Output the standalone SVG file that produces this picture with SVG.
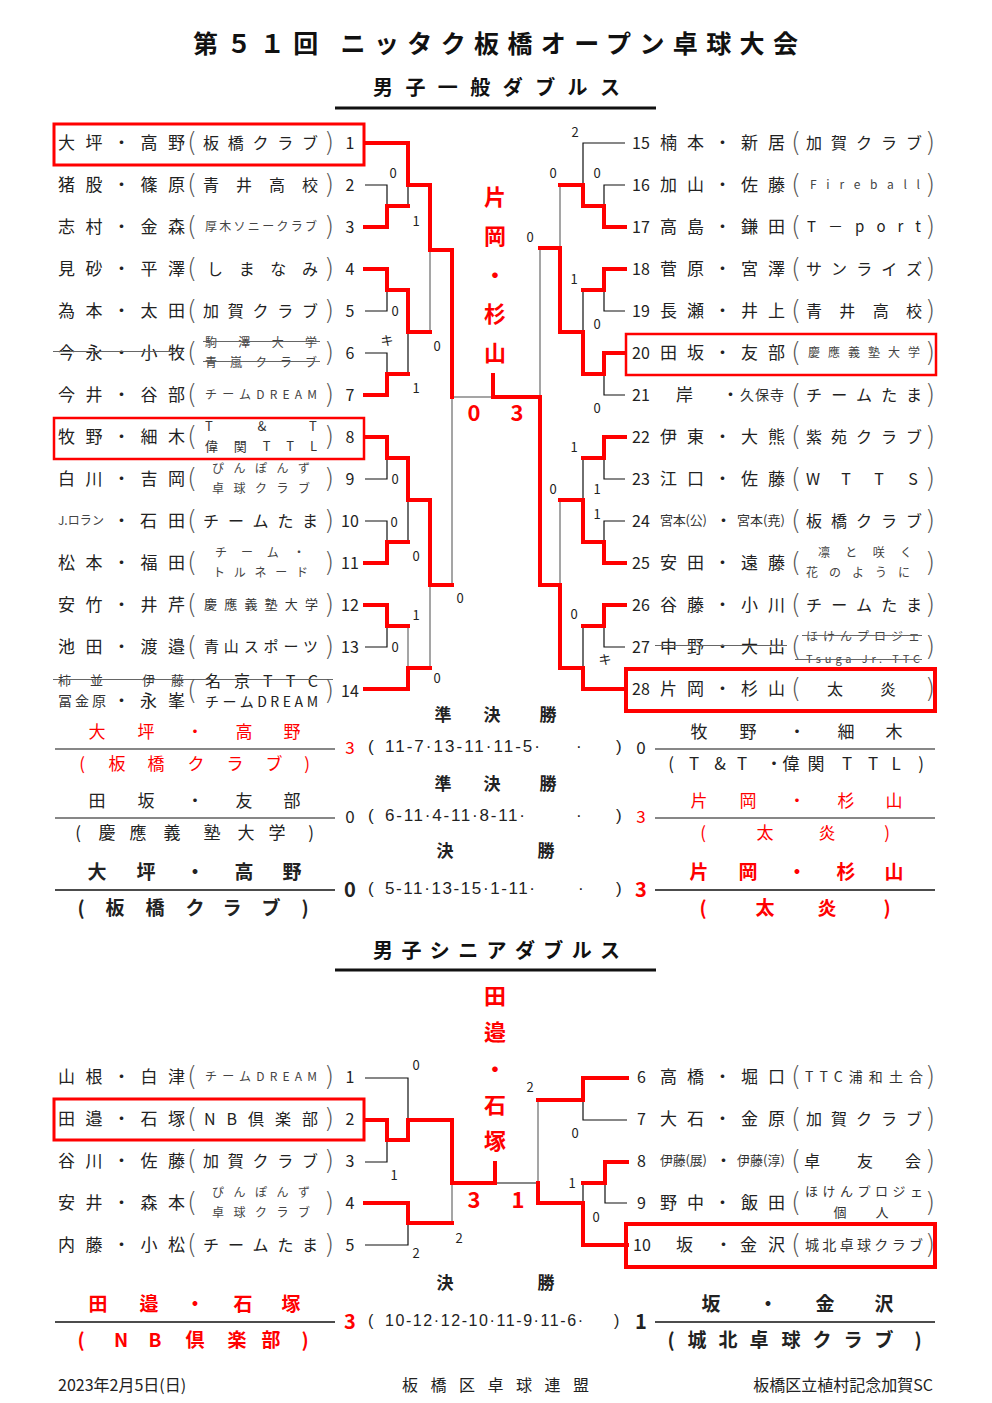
<svg xmlns="http://www.w3.org/2000/svg" width="992" height="1403" viewBox="0 0 992 1403">
<style>
text{font-family:"Noto Sans CJK JP","Noto Sans",sans-serif;fill:#222;dominant-baseline:central}
.nm{font-size:17px}
.cl{font-size:16px}
.sm{font-size:12px;fill:#444}
.s13{font-size:13px;fill:#333}
.pr{font-size:26px;font-family:"DejaVu Sans",sans-serif;font-weight:200;text-anchor:middle;fill:#555}
.no{font-size:16px;text-anchor:middle}
.nr{font-size:16px}
.sc{font-size:13px;text-anchor:middle}
.m{text-anchor:middle}
.red{fill:#f00}
.b{font-weight:bold}
.big{font-size:22px;font-weight:bold;fill:#f00;text-anchor:middle}
.res{font-size:17px;text-anchor:middle}
.num{font-size:17px;font-family:"Liberation Sans",sans-serif}
.k{stroke:#111;stroke-width:1.2;fill:none}
.g{stroke:#888;stroke-width:1.5;fill:none}
.r{stroke:#f00;stroke-width:4;fill:none;stroke-linecap:square}
.st{stroke:#666;stroke-width:1.2}
.bx{fill:none;stroke:#f00}
.hl{stroke:#111;stroke-width:1.2}
</style>
<rect width="992" height="1403" fill="#fff"/>

<g id="titles">
<text x="193" y="42" textLength="605" style="font-size:25px;font-weight:bold;fill:#111">第５１回 ニッタク板橋オープン卓球大会</text>
<text x="373" y="86" textLength="247" style="font-size:20px;font-weight:bold;fill:#111">男子一般ダブルス</text>
<line x1="335" y1="108" x2="656" y2="108" stroke="#111" stroke-width="3"/>
<text x="373" y="949" textLength="247" style="font-size:20px;font-weight:bold;fill:#111">男子シニアダブルス</text>
<line x1="335" y1="970" x2="656" y2="970" stroke="#111" stroke-width="3"/>
</g>

<g id="connectors">
<g class="k">
<path d="M365,185 H387 V206 M408,206 V185 M365,311 H387 V290 M365,353 H387 V374 M408,374 V332 M365,479 H387 V458 M365,521 H387 V542 M408,542 V500 M365,647 H387 V626"/>
<path d="M625,185 H604 V206 M625,143 H583 V185 M625,311 H604 V290 M625,395 H604 V374 M583,290 V332 M625,479 H604 V458 M625,521 H604 V542 M583,458 V500 M625,647 H604 V626 M583,626 V668"/>
<path d="M365,1078 H408 V1120 M365,1162 H387 V1140 M365,1245 H408 V1223 M627,1120 H583 V1100 M627,1203 H605 V1183 M583,1183 V1203 M538,1183 H495"/>
</g>
<g class="g">
<path d="M430,332 V250 M452,585 V397 H493 M408,626 V668 M430,668 V585 M560,185 V248 M540,248 V397 M560,500 V585 M452,1223 V1183 M538,1100 V1183"/>
</g>
<g class="r">
<path d="M365,227 H387 V206 H408 M365,143 H408 V185 H430 M365,269 H387 V290 H408 M365,395 H387 V374 H408 M408,290 V332 H430 M430,185 V250 H452 V397"/>
<path d="M365,437 H387 V458 H408 M365,563 H387 V542 H408 M408,458 V500 H430 M365,605 H387 V626 H408 M365,689 H408 V668 H430 M430,500 V585 H452"/>
<path d="M625,227 H604 V206 H583 M583,206 V185 H560 M625,269 H604 V290 H583 M625,353 H604 V374 H583 M583,374 V332 H560 M560,332 V248 H540 M540,585 V397 H493 V375"/>
<path d="M625,437 H604 V458 H583 M625,563 H604 V542 H583 M583,542 V500 H560 M625,605 H604 V626 H583 M625,689 H583 V668 H560 V585 H540"/>
<path d="M365,1120 H387 V1140 H408 V1120 H452 V1183 H495 V1163 M365,1203 H408 V1223 H452"/>
<path d="M627,1078 H583 V1100 H538 M627,1162 H605 V1183 H583 M627,1245 H583 V1203 H538 V1183"/>
</g>
</g>

<g id="scores-general">
<text class="sc" x="393" y="172">0</text>
<text class="sc" x="416" y="220">1</text>
<text class="sc" x="395" y="310">0</text>
<text class="sc" x="387" y="339">キ</text>
<text class="sc" x="416" y="387">1</text>
<text class="sc" x="437" y="345">0</text>
<text class="sc" x="395" y="478">0</text>
<text class="sc" x="394" y="521">0</text>
<text class="sc" x="416" y="555">0</text>
<text class="sc" x="416" y="614">1</text>
<text class="sc" x="395" y="646">0</text>
<text class="sc" x="437" y="677">0</text>
<text class="sc" x="460" y="597">0</text>
<text class="sc" x="575" y="131">2</text>
<text class="sc" x="553" y="172">0</text>
<text class="sc" x="597" y="172">0</text>
<text class="sc" x="530" y="236">0</text>
<text class="sc" x="574" y="278">1</text>
<text class="sc" x="597" y="323">0</text>
<text class="sc" x="597" y="407">0</text>
<text class="sc" x="574" y="446">1</text>
<text class="sc" x="553" y="488">0</text>
<text class="sc" x="597" y="488">1</text>
<text class="sc" x="597" y="513">1</text>
<text class="sc" x="574" y="613">0</text>
<text class="sc" x="605" y="658">キ</text>
<text class="big" x="474" y="411">0</text>
<text class="big" x="517" y="411">3</text>
<text class="big" x="495" y="195">片</text>
<text class="big" x="495" y="234">岡</text>
<text class="big" x="495" y="273">・</text>
<text class="big" x="495" y="312">杉</text>
<text class="big" x="495" y="351">山</text>
</g>

<g id="boxes">
<rect class="bx" x="54" y="124" width="310" height="41" stroke-width="3"/>
<rect class="bx" x="54" y="418" width="310" height="41" stroke-width="2.5"/>
<rect class="bx" x="626" y="334" width="310" height="41" stroke-width="2.5"/>
<rect class="bx" x="626" y="669" width="309" height="42" stroke-width="4"/>
<rect class="bx" x="54" y="1099" width="310" height="41" stroke-width="3"/>
<rect class="bx" x="626" y="1224" width="309" height="43" stroke-width="4"/>
</g>

<g transform="translate(0,-1.5)">
<g id="L1"><text class="nm" x="58" y="143" textLength="127">大坪・高野</text><text class="pr" x="192" y="143">(</text><text class="cl" x="203" y="143" textLength="115">板橋クラブ</text><text class="pr" x="329" y="143">)</text><text class="no" x="350" y="143">1</text></g>
<g id="L2"><text class="nm" x="58" y="185" textLength="127">猪股・篠原</text><text class="pr" x="192" y="185">(</text><text class="cl" x="203" y="185" textLength="115">青井高校</text><text class="pr" x="329" y="185">)</text><text class="no" x="350" y="185">2</text></g>
<g id="L3"><text class="nm" x="58" y="227" textLength="127">志村・金森</text><text class="pr" x="192" y="227">(</text><text class="sm" x="205" y="227" textLength="112">厚木ソニークラブ</text><text class="pr" x="329" y="227">)</text><text class="no" x="350" y="227">3</text></g>
<g id="L4"><text class="nm" x="58" y="269" textLength="127">見砂・平澤</text><text class="pr" x="192" y="269">(</text><text class="cl" x="207" y="269" textLength="111">しまなみ</text><text class="pr" x="329" y="269">)</text><text class="no" x="350" y="269">4</text></g>
<g id="L5"><text class="nm" x="58" y="311" textLength="127">為本・太田</text><text class="pr" x="192" y="311">(</text><text class="cl" x="203" y="311" textLength="115">加賀クラブ</text><text class="pr" x="329" y="311">)</text><text class="no" x="350" y="311">5</text></g>
<g id="L6"><text class="nm" x="58" y="353" textLength="127">今永・小牧</text><line class="st" x1="53" y1="353" x2="184" y2="353"/><text class="pr" x="192" y="353">(</text><text class="sm" x="205" y="343" textLength="112">駒澤大学</text><line class="st" x1="203" y1="343" x2="320" y2="343"/><text class="sm" x="205" y="363" textLength="112">青嵐クラブ</text><line class="st" x1="203" y1="363" x2="320" y2="363"/><text class="pr" x="329" y="353">)</text><text class="no" x="350" y="353">6</text></g>
<g id="L7"><text class="nm" x="58" y="395" textLength="127">今井・谷部</text><text class="pr" x="192" y="395">(</text><text class="sm" x="205" y="395" textLength="112">チームDREAM</text><text class="pr" x="329" y="395">)</text><text class="no" x="350" y="395">7</text></g>
<g id="L8"><text class="nm" x="58" y="437" textLength="127">牧野・細木</text><text class="pr" x="192" y="437">(</text><text class="s13 m" x="209 262 313" y="427">T&amp;T</text><text class="s13" x="205" y="447" textLength="112">偉関TTL</text><text class="pr" x="329" y="437">)</text><text class="no" x="350" y="437">8</text></g>
<g id="L9"><text class="nm" x="58" y="479" textLength="127">白川・吉岡</text><text class="pr" x="192" y="479">(</text><text class="sm" x="212" y="469" textLength="98">ぴんぽんず</text><text class="sm" x="212" y="489" textLength="98">卓球クラブ</text><text class="pr" x="329" y="479">)</text><text class="no" x="350" y="479">9</text></g>
<g id="L10"><text class="sm" x="58" y="521" textLength="46">J.ロラン</text><text class="nm" x="113" y="521">・</text><text class="nm" x="140" y="521" textLength="45">石田</text><text class="pr" x="192" y="521">(</text><text class="cl" x="203" y="521" textLength="115">チームたま</text><text class="pr" x="329" y="521">)</text><text class="no" x="350" y="521">10</text></g>
<g id="L11"><text class="nm" x="58" y="563" textLength="127">松本・福田</text><text class="pr" x="192" y="563">(</text><text class="sm" x="215" y="553" textLength="90">チーム・</text><text class="sm" x="213" y="573" textLength="95">トルネード</text><text class="pr" x="329" y="563">)</text><text class="no" x="350" y="563">11</text></g>
<g id="L12"><text class="nm" x="58" y="605" textLength="127">安竹・井芹</text><text class="pr" x="192" y="605">(</text><text class="s13" x="204" y="605" textLength="114">慶應義塾大学</text><text class="pr" x="329" y="605">)</text><text class="no" x="350" y="605">12</text></g>
<g id="L13"><text class="nm" x="58" y="647" textLength="127">池田・渡邉</text><text class="pr" x="192" y="647">(</text><text class="cl" x="204" y="647" textLength="114" style="font-size:15px">青山スポーツ</text><text class="pr" x="329" y="647">)</text><text class="no" x="350" y="647">13</text></g>
<g id="L14"><text class="s13" x="58" y="681" textLength="45">柿並</text><text class="s13" x="142" y="681" textLength="42">伊藤</text><text class="cl" x="205" y="681" textLength="113">名京TTC</text><line class="st" x1="53" y1="681" x2="333" y2="681"/><text class="s13" x="58" y="701" textLength="48" style="font-size:14px">冨金原</text><text class="nm" x="113" y="701">・</text><text class="nm" x="140" y="701" textLength="45">永峯</text><text class="cl" x="205" y="702" textLength="113" style="font-size:14px">チームDREAM</text><text class="pr" x="192" y="691">(</text><text class="pr" x="329" y="691">)</text><text class="no" x="350" y="691">14</text></g>

<g id="R15"><text class="nr" x="632" y="143">15</text><text class="nm" x="660" y="143" textLength="125">楠本・新居</text><text class="pr" x="796" y="143">(</text><text class="cl" x="806" y="143" textLength="116">加賀クラブ</text><text class="pr" x="930" y="143">)</text></g>
<g id="R16"><text class="nr" x="632" y="185">16</text><text class="nm" x="660" y="185" textLength="125">加山・佐藤</text><text class="pr" x="796" y="185">(</text><text class="sm" x="810" y="185" textLength="110">Fireball</text><text class="pr" x="930" y="185">)</text></g>
<g id="R17"><text class="nr" x="632" y="227">17</text><text class="nm" x="660" y="227" textLength="125">高島・鎌田</text><text class="pr" x="796" y="227">(</text><text class="cl" x="807" y="227" textLength="114" style="font-size:15px">T－port</text><text class="pr" x="930" y="227">)</text></g>
<g id="R18"><text class="nr" x="632" y="269">18</text><text class="nm" x="660" y="269" textLength="125">菅原・宮澤</text><text class="pr" x="796" y="269">(</text><text class="cl" x="806" y="269" textLength="116">サンライズ</text><text class="pr" x="930" y="269">)</text></g>
<g id="R19"><text class="nr" x="632" y="311">19</text><text class="nm" x="660" y="311" textLength="125">長瀬・井上</text><text class="pr" x="796" y="311">(</text><text class="cl" x="806" y="311" textLength="116">青井高校</text><text class="pr" x="930" y="311">)</text></g>
<g id="R20"><text class="nr" x="632" y="353">20</text><text class="nm" x="660" y="353" textLength="125">田坂・友部</text><text class="pr" x="796" y="353">(</text><text class="sm" x="808" y="353" textLength="112">慶應義塾大学</text><text class="pr" x="930" y="353">)</text></g>
<g id="R21"><text class="nr" x="632" y="395">21</text><text class="nm" x="676" y="395">岸</text><text class="nm" x="722" y="395">・</text><text class="s13" x="740" y="395" textLength="44" style="font-size:14px">久保寺</text><text class="pr" x="796" y="395">(</text><text class="cl" x="806" y="395" textLength="116">チームたま</text><text class="pr" x="930" y="395">)</text></g>
<g id="R22"><text class="nr" x="632" y="437">22</text><text class="nm" x="660" y="437" textLength="125">伊東・大熊</text><text class="pr" x="796" y="437">(</text><text class="cl" x="806" y="437" textLength="116">紫苑クラブ</text><text class="pr" x="930" y="437">)</text></g>
<g id="R23"><text class="nr" x="632" y="479">23</text><text class="nm" x="660" y="479" textLength="125">江口・佐藤</text><text class="pr" x="796" y="479">(</text><text class="cl m" x="813 846 879 913" y="479">WTTS</text><text class="pr" x="930" y="479">)</text></g>
<g id="R24"><text class="nr" x="632" y="521">24</text><text class="s13" x="660" y="521" textLength="47">宮本(公)</text><text class="nm" x="715" y="521">・</text><text class="s13" x="737" y="521" textLength="48">宮本(尭)</text><text class="pr" x="796" y="521">(</text><text class="cl" x="806" y="521" textLength="116">板橋クラブ</text><text class="pr" x="930" y="521">)</text></g>
<g id="R25"><text class="nr" x="632" y="563">25</text><text class="nm" x="660" y="563" textLength="125">安田・遠藤</text><text class="pr" x="796" y="563">(</text><text class="sm" x="818" y="553" textLength="94">凛と咲く</text><text class="sm" x="806" y="573" textLength="104">花のように</text><text class="pr" x="930" y="563">)</text></g>
<g id="R26"><text class="nr" x="632" y="605">26</text><text class="nm" x="660" y="605" textLength="125">谷藤・小川</text><text class="pr" x="796" y="605">(</text><text class="cl" x="806" y="605" textLength="116">チームたま</text><text class="pr" x="930" y="605">)</text></g>
<g id="R27"><text class="nr" x="632" y="647">27</text><text class="nm" x="660" y="647" textLength="125">中野・大出</text><line class="st" x1="655" y1="647" x2="787" y2="647"/><text class="pr" x="796" y="647">(</text><text class="sm" x="806" y="637" textLength="114">ほけんプロジェ</text><line class="st" x1="802" y1="637" x2="922" y2="637"/><text class="sm" x="806" y="659" textLength="114" style="font-size:11px">Tsuga Jr. TTC</text><line class="st" x1="795" y1="661" x2="922" y2="661"/><text class="pr" x="930" y="647">)</text></g>
<g id="R28"><text class="nr" x="632" y="689">28</text><text class="nm" x="660" y="689" textLength="125">片岡・杉山</text><text class="pr" x="796" y="689">(</text><text class="cl m" x="835 888" y="689">太炎</text><text class="pr" x="930" y="689">)</text></g>

<g id="S1"><text class="nm" x="58" y="1077" textLength="127">山根・白津</text><text class="pr" x="192" y="1077">(</text><text class="sm" x="205" y="1077" textLength="112">チームDREAM</text><text class="pr" x="329" y="1077">)</text><text class="no" x="350" y="1077">1</text></g>
<g id="S2"><text class="nm" x="58" y="1119" textLength="127">田邉・石塚</text><text class="pr" x="192" y="1119">(</text><text class="cl" x="204" y="1119" textLength="114">NB倶楽部</text><text class="pr" x="329" y="1119">)</text><text class="no" x="350" y="1119">2</text></g>
<g id="S3"><text class="nm" x="58" y="1161" textLength="127">谷川・佐藤</text><text class="pr" x="192" y="1161">(</text><text class="cl" x="203" y="1161" textLength="115">加賀クラブ</text><text class="pr" x="329" y="1161">)</text><text class="no" x="350" y="1161">3</text></g>
<g id="S4"><text class="nm" x="58" y="1203" textLength="127">安井・森本</text><text class="pr" x="192" y="1203">(</text><text class="sm" x="212" y="1193" textLength="98">ぴんぽんず</text><text class="sm" x="212" y="1213" textLength="98">卓球クラブ</text><text class="pr" x="329" y="1203">)</text><text class="no" x="350" y="1203">4</text></g>
<g id="S5"><text class="nm" x="58" y="1245" textLength="127">内藤・小松</text><text class="pr" x="192" y="1245">(</text><text class="cl" x="203" y="1245" textLength="115">チームたま</text><text class="pr" x="329" y="1245">)</text><text class="no" x="350" y="1245">5</text></g>

<g id="S6"><text class="nr" x="637" y="1077">6</text><text class="nm" x="660" y="1077" textLength="125">高橋・堀口</text><text class="pr" x="796" y="1077">(</text><text class="s13" x="805" y="1077" textLength="118" style="font-size:14px">TTC浦和土合</text><text class="pr" x="930" y="1077">)</text></g>
<g id="S7"><text class="nr" x="637" y="1119">7</text><text class="nm" x="660" y="1119" textLength="125">大石・金原</text><text class="pr" x="796" y="1119">(</text><text class="cl" x="806" y="1119" textLength="116">加賀クラブ</text><text class="pr" x="930" y="1119">)</text></g>
<g id="S8"><text class="nr" x="637" y="1161">8</text><text class="s13" x="660" y="1161" textLength="47">伊藤(展)</text><text class="nm" x="715" y="1161">・</text><text class="s13" x="737" y="1161" textLength="48">伊藤(淳)</text><text class="pr" x="796" y="1161">(</text><text class="cl m" x="812 865 913" y="1161">卓友会</text><text class="pr" x="930" y="1161">)</text></g>
<g id="S9"><text class="nr" x="637" y="1203">9</text><text class="nm" x="660" y="1203" textLength="125">野中・飯田</text><text class="pr" x="796" y="1203">(</text><text class="s13" x="805" y="1192" textLength="118">ほけんプロジェ</text><text class="s13 m" x="840 882" y="1213">個人</text><text class="pr" x="930" y="1203">)</text></g>
<g id="S10"><text class="nr" x="633" y="1245">10</text><text class="nm" x="676" y="1245">坂</text><text class="nm" x="715" y="1245">・</text><text class="nm" x="740" y="1245" textLength="45">金沢</text><text class="pr" x="796" y="1245">(</text><text class="s13" x="805" y="1245" textLength="118" style="font-size:14px">城北卓球クラブ</text><text class="pr" x="930" y="1245">)</text></g>
</g>

<g id="results-general">
<text class="res b" x="443 492 548" y="713">準決勝</text>
<text class="res red" x="97 146 195 244 292" y="730">大坪・高野</text>
<line class="hl" x1="55" y1="749" x2="335" y2="749"/>
<text class="res red" x="82 117 156 196 235 274 307" y="762">(板橋クラブ)</text>
<text class="res red" x="350" y="746">3</text>
<text class="num" x="368" y="746">(</text>
<text class="num" x="385" y="746" textLength="155">11-7·13-11·11-5·</text>
<text class="num" x="576" y="746">·</text>
<text class="num" x="616" y="746">)</text>
<text class="res" x="641" y="746">0</text>
<text class="res" x="699 748 797 846 894" y="730">牧野・細木</text>
<line class="hl" x1="655" y1="749" x2="935" y2="749"/>
<text class="res" x="671 694 720 742 774 791 816 847 873 896 921" y="762">(T&amp;T・偉関TTL)</text>

<text class="res b" x="443 492 548" y="782">準決勝</text>
<text class="res" x="97 146 195 244 292" y="799">田坂・友部</text>
<line class="hl" x1="55" y1="818" x2="335" y2="818"/>
<text class="res" x="78 107 138 172 212 246 277 311" y="831">(慶應義塾大学)</text>
<text class="res" x="350" y="815">0</text>
<text class="num" x="368" y="815">(</text>
<text class="num" x="385" y="815" textLength="140">6-11·4-11·8-11·</text>
<text class="num" x="576" y="815">·</text>
<text class="num" x="616" y="815">)</text>
<text class="res red" x="641" y="815">3</text>
<text class="res red" x="699 748 797 846 894" y="799">片岡・杉山</text>
<line class="hl" x1="655" y1="818" x2="935" y2="818"/>
<text class="res red" x="703 765 827 887" y="831">(太炎)</text>

<text class="res b" x="445 546" y="849">決勝</text>
<text class="res b" x="97 146 195 244 292" y="870" style="font-size:19px">大坪・高野</text>
<line x1="55" y1="890" x2="335" y2="890" stroke="#111" stroke-width="1.6"/>
<text class="res b" x="81 115 155 195 232 271 305" y="906" style="font-size:19px">(板橋クラブ)</text>
<text class="res b" x="350" y="888" style="font-size:20px">0</text>
<text class="num" x="368" y="888">(</text>
<text class="num" x="385" y="888" textLength="150">5-11·13-15·1-11·</text>
<text class="num" x="578" y="888">·</text>
<text class="num" x="616" y="888">)</text>
<text class="res b red" x="641" y="888" style="font-size:20px">3</text>
<text class="res b red" x="699 748 797 846 894" y="870" style="font-size:19px">片岡・杉山</text>
<line x1="655" y1="890" x2="935" y2="890" stroke="#111" stroke-width="1.6"/>
<text class="res b red" x="703 765 827 887" y="906" style="font-size:19px">(太炎)</text>
</g>

<g id="scores-senior">
<text class="big" x="495" y="994">田</text>
<text class="big" x="495" y="1030">邉</text>
<text class="big" x="495" y="1067">・</text>
<text class="big" x="495" y="1103">石</text>
<text class="big" x="495" y="1139">塚</text>
<text class="big" x="474" y="1198">3</text>
<text class="big" x="518" y="1198">1</text>
<text class="sc" x="416" y="1064">0</text>
<text class="sc" x="394" y="1174">1</text>
<text class="sc" x="416" y="1252">2</text>
<text class="sc" x="459" y="1237">2</text>
<text class="sc" x="530" y="1086">2</text>
<text class="sc" x="575" y="1132">0</text>
<text class="sc" x="572" y="1182">1</text>
<text class="sc" x="596" y="1216">0</text>
</g>

<g id="results-senior">
<text class="res b" x="445 546" y="1281">決勝</text>
<text class="res b red" x="98 149 195 243 291" y="1302" style="font-size:19px">田邉・石塚</text>
<line x1="55" y1="1322" x2="335" y2="1322" stroke="#111" stroke-width="1.6"/>
<text class="res b red" x="81 121 155 195 237 271 305" y="1338" style="font-size:19px">(NB倶楽部)</text>
<text class="res b red" x="350" y="1320" style="font-size:20px">3</text>
<text class="num" x="368" y="1320" style="font-size:16px">(</text>
<text class="num" x="385" y="1320" textLength="198" style="font-size:16px">10-12·12-10·11-9·11-6·</text>
<text class="num" x="614" y="1320" style="font-size:16px">)</text>
<text class="res b" x="641" y="1320" style="font-size:20px">1</text>
<text class="res b" x="711 768 825 884" y="1302" style="font-size:19px">坂・金沢</text>
<line x1="655" y1="1322" x2="935" y2="1322" stroke="#111" stroke-width="1.6"/>
<text class="res b" x="671 697 728 759 791 822 853 884 918" y="1338" style="font-size:19px">(城北卓球クラブ)</text>
</g>

<g id="footer">
<text x="58" y="1384" style="font-size:16px">2023年2月5日(日)</text>
<text class="m" x="410 438.5 467 495.5 524 552.5 581" y="1384" style="font-size:16px">板橋区卓球連盟</text>
<text x="933" y="1384" style="font-size:16px;text-anchor:end">板橋区立植村記念加賀SC</text>
</g>
</svg>
